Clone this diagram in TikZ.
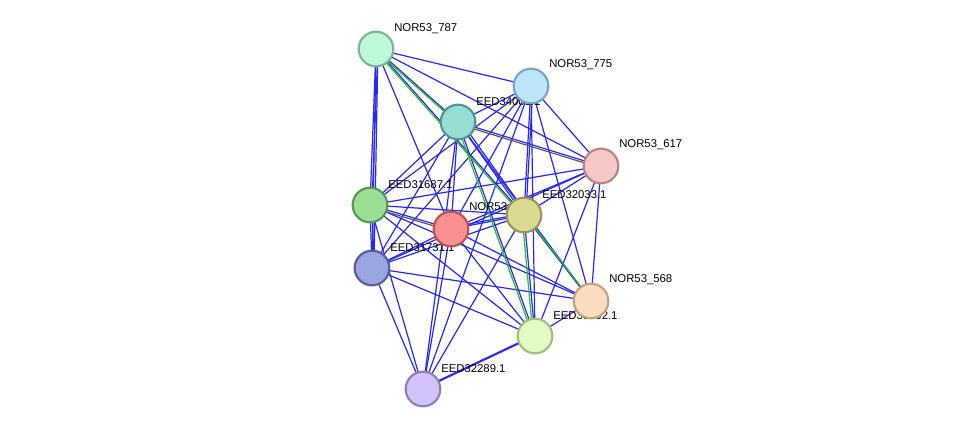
\documentclass[tikz,border=0pt]{standalone}
\usepackage{fontspec}
\setmainfont{Liberation Sans}
\begin{document}
\begin{tikzpicture}[x=0.75pt,y=-0.75pt,
 nd/.style={circle,draw,line width=1.6pt,minimum size=26pt,inner sep=0pt},
 lb/.style={anchor=south west,font=\fontsize{8.5pt}{9pt}\selectfont,inner sep=0pt},
 bl/.style={draw={rgb,255:red,40;green,40;blue,240},line width=0.9pt},
 gr/.style={draw={rgb,255:red,40;green,190;blue,40},line width=0.9pt},
 gy/.style={draw={rgb,255:red,90;green,90;blue,90},line width=0.9pt}]
\useasboundingbox (0,0) rectangle (975,435);
\fill[white] (0,0) rectangle (975,435);
\coordinate (a) at (376,49);
\coordinate (b) at (531,86);
\coordinate (c) at (458,122);
\coordinate (d) at (601,166);
\coordinate (e) at (370,205);
\coordinate (f) at (451,229);
\coordinate (g) at (524,215);
\coordinate (h) at (372,268);
\coordinate (i) at (591,301);
\coordinate (j) at (535,336);
\coordinate (k) at (423,389);
% edges
\foreach \u/\v in {a/b,a/c,a/d,a/e,a/h,a/f,a/g,b/c,b/d,b/e,b/f,b/g,b/h,b/i,b/j,b/k,c/d,c/e,c/f,c/g,c/h,c/j,c/i,c/k,d/e,d/f,d/g,d/h,d/i,d/j,e/f,e/g,e/h,e/i,e/j,e/k,f/g,f/h,f/i,f/j,f/k,g/h,g/i,g/j,g/k,h/i,h/j,h/k,i/j,j/k}
 \draw[bl] (\u) -- (\v);
\foreach \u/\v in {a/e,a/h,b/g,c/g,e/h,f/g,j/k}
 \draw[bl,transform canvas={shift={(1.5pt,1.5pt)}}] (\u) -- (\v);
\draw[gr,transform canvas={shift={(-1.5pt,0pt)}}] (a) -- (c);
\draw[gr,transform canvas={shift={(-1.5pt,0pt)}}] (a) -- (g);
\draw[gr,transform canvas={shift={(-1.5pt,0pt)}}] (c) -- (j);
\draw[gr,transform canvas={shift={(-1.5pt,0pt)}}] (g) -- (j);
\draw[gr,transform canvas={shift={(1.5pt,-1pt)}}] (g) -- (i);
\draw[gy,transform canvas={shift={(0pt,-1.5pt)}}] (c) -- (d);
\draw[gy,transform canvas={shift={(0pt,-1.5pt)}}] (e) -- (f);
% labels (under nodes)
\node[lb] (la) at (394,34) {NOR53\_787};
\node[lb] (lb2) at (549,70) {NOR53\_775};
\node[lb] (lc) at (476,106) {EED34001.1};
\node[lb] (ld) at (619,150) {NOR53\_617};
\node[lb] (le) at (388,189) {EED31687.1};
\node[lb] (lf) at (469,213) {NOR53\_565};
\node[lb] (lg) at (542,199) {EED32033.1};
\node[lb] (lh) at (390,252) {EED31731.1};
\node[lb] (li) at (609,285) {NOR53\_568};
\node[lb] (lj) at (553,320) {EED33702.1};
\node[lb] (lk) at (441,373) {EED32289.1};
% nodes
\node[nd,fill={rgb,255:red,190;green,250;blue,215},draw={rgb,255:red,120;green,185;blue,145}] (na) at (a) {};
\node[nd,fill={rgb,255:red,190;green,230;blue,250},draw={rgb,255:red,120;green,165;blue,195}] (nb) at (b) {};
\node[nd,fill={rgb,255:red,150;green,222;blue,212},draw={rgb,255:red,80;green,150;blue,140}] (nc) at (c) {};
\node[nd,fill={rgb,255:red,245;green,200;blue,200},draw={rgb,255:red,190;green,130;blue,130}] (nd2) at (d) {};
\node[nd,fill={rgb,255:red,155;green,222;blue,150},draw={rgb,255:red,90;green,150;blue,85}] (ne) at (e) {};
\node[nd,fill={rgb,255:red,250;green,145;blue,145},draw={rgb,255:red,195;green,80;blue,80}] (nf) at (f) {};
\node[nd,fill={rgb,255:red,220;green,218;blue,145},draw={rgb,255:red,155;green,150;blue,85}] (ng) at (g) {};
\node[nd,fill={rgb,255:red,155;green,165;blue,225},draw={rgb,255:red,85;green,95;blue,150}] (nh) at (h) {};
\node[nd,fill={rgb,255:red,252;green,220;blue,190},draw={rgb,255:red,200;green,160;blue,125}] (ni) at (i) {};
\node[nd,fill={rgb,255:red,225;green,252;blue,195},draw={rgb,255:red,160;green,190;blue,125}] (nj) at (j) {};
\node[nd,fill={rgb,255:red,210;green,195;blue,250},draw={rgb,255:red,145;green,125;blue,190}] (nk) at (k) {};
\end{tikzpicture}
\end{document}
